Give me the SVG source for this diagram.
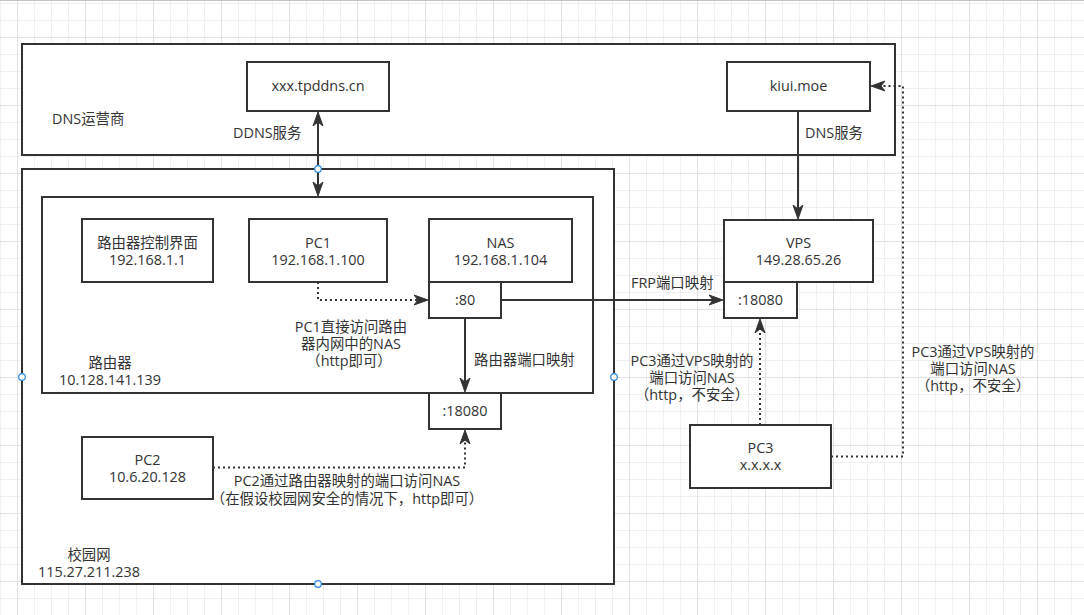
<svg xmlns="http://www.w3.org/2000/svg" width="1084" height="615" viewBox="0 0 1084 615">
<style>
.t{font-family:"Open Sans","Noto Sans CJK SC",sans-serif;font-size:14.4px;fill:#333}
.c{text-anchor:middle}
.box{fill:#fff;stroke:#333;stroke-width:2}
.ln{fill:none;stroke:#333;stroke-width:2}
.dot{stroke-dasharray:2 3}
.pt{fill:#fff;stroke:#2b86e0;stroke-width:1.2}
</style>
<defs>
<pattern id="grid" patternUnits="userSpaceOnUse" x="17" y="37" width="68" height="68">
<rect width="68" height="68" fill="#fff"/>
<path d="M17.5 0V68M34.5 0V68M51.5 0V68M0 17.5H68M0 34.5H68M0 51.5H68" stroke="#f0f0f0" stroke-width="1"/>
<path d="M0.5 0V68M0 0.5H68" stroke="#e2e2e2" stroke-width="1"/>
</pattern>
<marker id="arr" markerUnits="userSpaceOnUse" viewBox="0 0 15 12" markerWidth="15" markerHeight="12" refX="4" refY="6" orient="auto-start-reverse">
<path d="M14 6L0 1L4 6L0 11Z" fill="#333" stroke="#333" stroke-width="1" stroke-linejoin="miter"/>
</marker>
</defs>
<rect width="1084" height="615" fill="url(#grid)"/>
<rect x="0" y="0" width="1084" height="1" fill="#c4c4c4"/>

<g id="dns-provider">
<rect class="box" x="22" y="44" width="873" height="111"/>
<text class="t" x="52" y="124">DNS运营商</text>
</g>
<g id="campus">
<rect class="box" x="22" y="169" width="592" height="415"/>
<text class="t c" x="89" y="560">校园网</text>
<text class="t c" x="89" y="577">115.27.211.238</text>
</g>
<g id="router">
<rect class="box" x="42" y="197" width="551" height="196"/>
<text class="t c" x="110" y="368">路由器</text>
<text class="t c" x="110" y="385">10.128.141.139</text>
</g>
<g id="tpddns">
<rect class="box" x="247" y="62" width="142" height="49"/>
<text class="t c" x="318" y="91">xxx.tpddns.cn</text>
</g>
<g id="kiui">
<rect class="box" x="727" y="62" width="143" height="49"/>
<text class="t c" x="798.5" y="91">kiui.moe</text>
</g>
<g id="router-ctrl">
<rect class="box" x="82" y="219" width="131" height="63"/>
<text class="t c" x="147.5" y="247.5">路由器控制界面</text>
<text class="t c" x="147.5" y="264.5">192.168.1.1</text>
</g>
<g id="pc1">
<rect class="box" x="249" y="219" width="138" height="63"/>
<text class="t c" x="318" y="247.5">PC1</text>
<text class="t c" x="318" y="264.5">192.168.1.100</text>
</g>
<g id="nas">
<rect class="box" x="429" y="219" width="143" height="63"/>
<text class="t c" x="500.5" y="247.5">NAS</text>
<text class="t c" x="500.5" y="264.5">192.168.1.104</text>
</g>
<g id="nas-80">
<rect class="box" x="429" y="282" width="72" height="36"/>
<text class="t c" x="465" y="305">:80</text>
</g>
<g id="router-18080">
<rect class="box" x="429" y="393" width="72" height="36"/>
<text class="t c" x="465" y="416">:18080</text>
</g>
<g id="pc2">
<rect class="box" x="82" y="437" width="131" height="62"/>
<text class="t c" x="147.5" y="464.5">PC2</text>
<text class="t c" x="147.5" y="481.5">10.6.20.128</text>
</g>
<g id="vps">
<rect class="box" x="724" y="220" width="149" height="62"/>
<text class="t c" x="798.5" y="247.5">VPS</text>
<text class="t c" x="798.5" y="264.5">149.28.65.26</text>
</g>
<g id="vps-18080">
<rect class="box" x="724" y="282" width="73" height="36"/>
<text class="t c" x="760.5" y="305">:18080</text>
</g>
<g id="pc3">
<rect class="box" x="690" y="425" width="141" height="63"/>
<text class="t c" x="760.5" y="453">PC3</text>
<text class="t c" x="760.5" y="470">x.x.x.x</text>
</g>

<g id="connectors">
<path class="ln" d="M318 122V186" marker-start="url(#arr)" marker-end="url(#arr)"/>
<text class="t" x="233" y="138">DDNS服务</text>
<path class="ln" d="M798 111V209" marker-end="url(#arr)"/>
<text class="t" x="805" y="138">DNS服务</text>
<path class="ln dot" d="M318 282V300H418" marker-end="url(#arr)"/>
<text class="t c" x="351" y="331.5">PC1直接访问路由</text>
<text class="t c" x="351" y="348.5">器内网中的NAS</text>
<text class="t c" x="349" y="365.5">（http即可）</text>
<path class="ln" d="M465 318V382" marker-end="url(#arr)"/>
<text class="t" x="474" y="365">路由器端口映射</text>
<path class="ln" d="M501 300H713" marker-end="url(#arr)"/>
<text class="t" x="631" y="288">FRP端口映射</text>
<path class="ln dot" d="M213 467.5H465V440" marker-end="url(#arr)"/>
<text class="t c" x="347" y="486">PC2通过路由器映射的端口访问NAS</text>
<text class="t c" x="347" y="503.5">（在假设校园网安全的情况下，http即可）</text>
<path class="ln dot" d="M760 425V329" marker-end="url(#arr)"/>
<text class="t c" x="692" y="365.5">PC3通过VPS映射的</text>
<text class="t c" x="692" y="382.5">端口访问NAS</text>
<text class="t c" x="692" y="399.5">（http，不安全）</text>
<path class="ln dot" d="M831 456.5H903V86H881" marker-end="url(#arr)"/>
<text class="t c" x="973" y="357">PC3通过VPS映射的</text>
<text class="t c" x="973" y="374">端口访问NAS</text>
<text class="t c" x="973" y="391">（http，不安全）</text>
</g>
<g id="points">
<circle class="pt" cx="318" cy="169" r="3.3"/>
<circle class="pt" cx="22" cy="377" r="3.3"/>
<circle class="pt" cx="614" cy="377" r="3.3"/>
<circle class="pt" cx="318" cy="584" r="3.3"/>
</g>
</svg>
